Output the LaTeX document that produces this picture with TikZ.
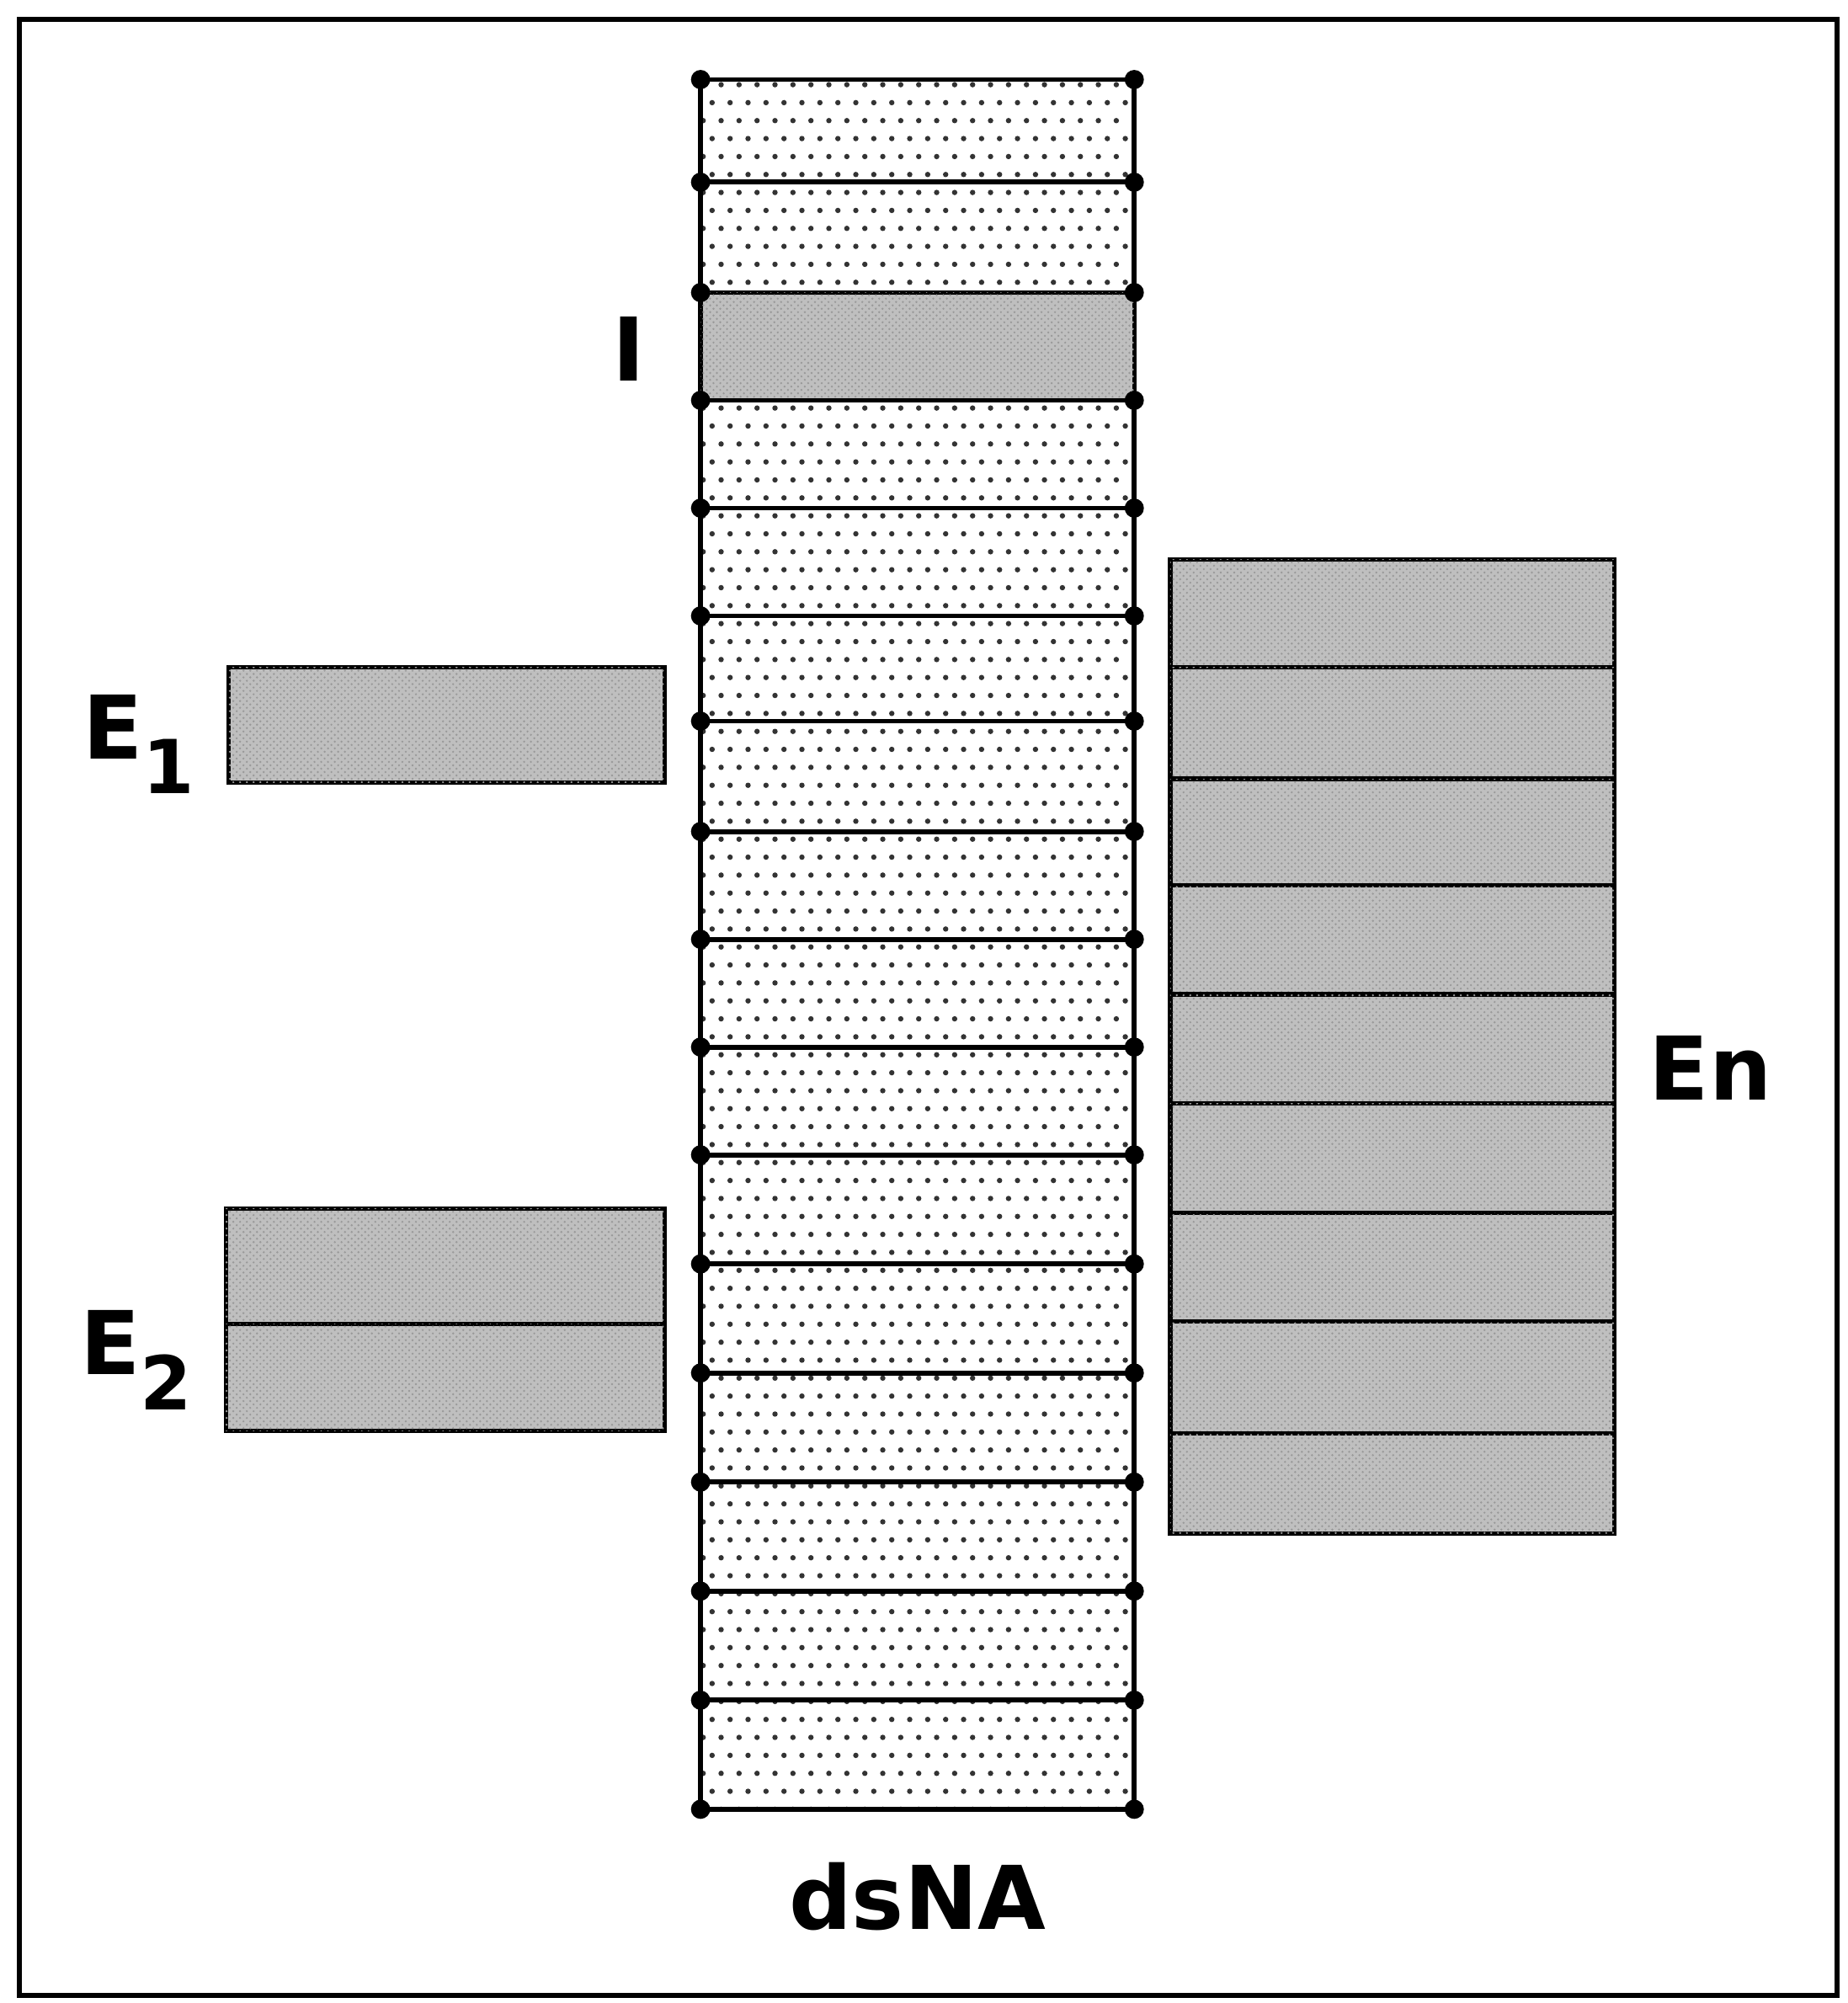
\documentclass[tikz,border=0pt]{standalone}
\usepackage{fontspec}
\setmainfont{DejaVu Sans}
\usetikzlibrary{patterns}
\begin{document}
\begin{tikzpicture}[x=0.02cm,y=-0.02cm,
  colbox/.style={draw=black,line width=2.2pt},
  shadebox/.style={draw=black,line width=2pt,fill=black!25,postaction={pattern=crosshatch dots,pattern color=black!40}},
  lbl/.style={font=\fontsize{39}{46}\selectfont\bfseries},
  jn/.style={circle,fill=black,inner sep=0pt,minimum size=0.3cm}]
\useasboundingbox (0,0) rectangle (1440,1561);
\draw[line width=2.2pt] (15,15) rectangle (1432,1555);
% dotted background of column
\begin{scope}
\clip (546,62) rectangle (884,1410);
\foreach \yy in {0,...,96}{
  \pgfmathsetmacro{\off}{mod(\yy,2)*7}
  \foreach \xx in {0,...,24}{
    \fill[black!80] (548+\off+\xx*14,66+\yy*14) circle (2.1);
  }
}
\end{scope}
% central column
\foreach \a/\b [count=\i] in {62/142,142/228,228/312,312/396,396/480,480/562,562/648,648/732,732/816,816/900,900/985,985/1070,1070/1155,1155/1240,1240/1325,1325/1410}{
  \ifnum\i=3
    \draw[shadebox] (546,\a) rectangle (884,\b);
  \else
    \draw[colbox] (546,\a) rectangle (884,\b);
  \fi
}
\foreach \y in {62,142,228,312,396,480,562,648,732,816,900,985,1070,1155,1240,1325,1410}{
  \node[jn] at (546,\y) {};
  \node[jn] at (884,\y) {};
}
\node[lbl] (I) at (490,272) {I};
% E1
\draw[shadebox] (178,520) rectangle (518,610);
\node[lbl] (E1) at (108,580) {E\raisebox{-0.4em}{\fontsize{33}{40}\selectfont 1}};
% E2
\draw[shadebox] (176,942) rectangle (518,1032);
\draw[shadebox] (176,1032) rectangle (518,1115);
\node[lbl] (E2) at (106,1060) {E\raisebox{-0.4em}{\fontsize{33}{40}\selectfont 2}};
% En
\foreach \a/\b in {436/520,520/607,607/690,690/775,775/860,860/945,945/1030,1030/1117,1117/1195}{
  \draw[shadebox] (912,\a) rectangle (1258,\b);
}
\node[lbl] (En) at (1333,832) {En};
\node[lbl] (ds) at (715,1478) {dsNA};
\end{tikzpicture}
\end{document}
